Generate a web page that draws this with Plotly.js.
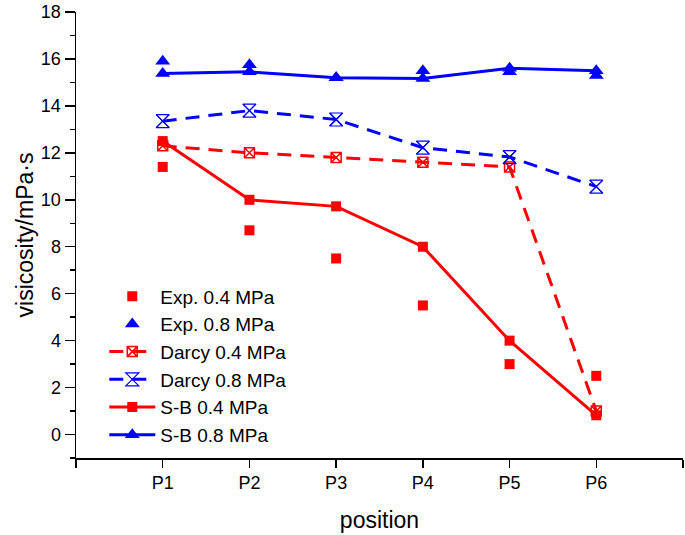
<!DOCTYPE html>
<html>
<head>
<meta charset="utf-8">
<script src="https://cdn.plot.ly/plotly-3.0.1.min.js"></script>
<style>html,body{margin:0;padding:0;background:#fff;}#chart{width:685px;height:535px;}</style>
</head>
<body>
<div id="chart"></div>
<script>
const positions = [1, 2, 3, 4, 5, 6];
const tickVals = [0, 1, 2, 3, 4, 5, 6, 7];
const tickLabels = ['', 'P1', 'P2', 'P3', 'P4', 'P5', 'P6', ''];
const exp04 = [11.4, 8.7, 7.5, 5.5, 3.0, 2.5];
const exp08 = [15.9, 15.75, 15.2, 15.5, 15.45, 15.3];
const darcy04 = [12.3, 12.0, 11.8, 11.6, 11.4, 1.0];
const darcy08 = [13.35, 13.8, 13.42, 12.22, 11.82, 10.56];
const sb04 = [12.5, 10.0, 9.72, 8.0, 4.0, 0.82];
const sb08 = [15.38, 15.45, 15.2, 15.17, 15.6, 15.5];

const RED = '#ff0000', BLUE = '#0000ff';
const dashPat = '14px,9px';

const traces = [
  {x: positions, y: darcy04, name: 'Darcy 0.4 MPa', mode: 'lines+markers',
   line: {color: RED, width: 3, dash: dashPat},
   marker: {symbol: 'square-x-open', size: 10, color: RED, line: {width: 1.5, color: RED}}},
  {x: positions, y: darcy08, name: 'Darcy 0.8 MPa', mode: 'lines+markers',
   line: {color: BLUE, width: 3, dash: dashPat},
   marker: {symbol: 'hourglass-open', size: 13, color: BLUE, line: {width: 1.2, color: BLUE}}},
  {x: positions, y: darcy08, name: 'Darcy 0.8 MPa', mode: 'markers', showlegend: false, hoverinfo: 'skip',
   marker: {symbol: 'x-thin-open', size: 13, color: BLUE, line: {width: 1.2, color: BLUE}}},
  {x: positions, y: sb04, name: 'S-B 0.4 MPa', mode: 'lines+markers',
   line: {color: RED, width: 3},
   marker: {symbol: 'square', size: 10, color: RED}},
  {x: positions, y: sb08, name: 'S-B 0.8 MPa', mode: 'lines+markers',
   line: {color: BLUE, width: 3},
   marker: {symbol: 'triangle-up', size: 13, color: BLUE}},
  {x: positions, y: exp04, name: 'Exp. 0.4 MPa', mode: 'markers',
   marker: {symbol: 'square', size: 10, color: RED}},
  {x: positions, y: exp08, name: 'Exp. 0.8 MPa', mode: 'markers',
   marker: {symbol: 'triangle-up', size: 13, color: BLUE}}
];

const layout = {
  width: 685, height: 535,
  margin: {l: 76, r: 2, t: 12, b: 77},
  paper_bgcolor: '#fff', plot_bgcolor: '#fff',
  font: {family: 'Liberation Sans, Arial, sans-serif', size: 18, color: '#000'},
  showlegend: true,
  legend: {
    x: 0.0466, y: 0.405, xanchor: 'left', yanchor: 'top',
    bgcolor: 'rgba(0,0,0,0)', font: {size: 19, color: '#000'},
    traceorder: 'normal', tracegroupgap: 0,
    itemwidth: 46
  },
  xaxis: {
    range: [0, 7], tickvals: tickVals, ticktext: tickLabels,
    showline: true, linecolor: '#000', linewidth: 1.5,
    ticks: 'outside', ticklen: 8, tickwidth: 1.5, tickcolor: '#000',
    showgrid: false, zeroline: false, tickfont: {size: 18},
    title: {text: 'position', font: {size: 23}, standoff: 20}
  },
  yaxis: {
    range: [-1, 18], tickvals: [0, 2, 4, 6, 8, 10, 12, 14, 16, 18],
    showline: true, linecolor: '#000', linewidth: 1.5,
    ticks: 'outside', ticklen: 10, tickwidth: 1.5, tickcolor: '#000',
    minor: {tickvals: [1, 3, 5, 7, 9, 11, 13, 15, 17, -1], ticks: 'outside', ticklen: 5, tickwidth: 1.5, tickcolor: '#000', showgrid: false},
    showgrid: false, zeroline: false, tickfont: {size: 18},
    title: {text: 'visicosity/mPa·s', font: {size: 23}, standoff: 1}
  }
};

const order = [5, 6, 0, 1, 3, 4, 2];
const data = order.map(i => traces[i]);
Plotly.newPlot('chart', data, layout, {displayModeBar: false, staticPlot: true});
</script>
</body>
</html>
